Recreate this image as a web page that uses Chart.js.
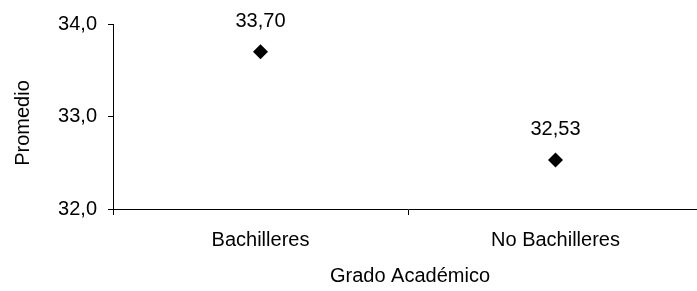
<!DOCTYPE html>
<html>
<head>
<meta charset="utf-8">
<script src="https://cdn.jsdelivr.net/npm/chart.js@4"></script>
<style>
html,body{margin:0;padding:0;background:#fff;overflow:hidden;}
#wrap{width:697px;height:291px;position:relative;overflow:hidden;}
canvas{display:block;}
</style>
</head>
<body>
<div id="wrap"><canvas id="c" width="703" height="291"></canvas></div>
<script>
const categories = ['Bachilleres', 'No Bachilleres'];
const promedios = [33.70, 32.53];
const yTicks = [32, 33, 34];
const yTitle = 'Promedio';
const xTitle = 'Grado Académico';

const FONT = "'Liberation Sans', Arial, sans-serif";
const fmt = (v, d) => v.toFixed(d).replace('.', ',');

const labelsPlugin = {
  id: 'customText',
  afterDatasetsDraw(chart) {
    const ctx = chart.ctx;
    ctx.save();
    ctx.fillStyle = '#000';
    ctx.font = '20px ' + FONT;
    ctx.textAlign = 'center';
    ctx.textBaseline = 'alphabetic';
    const meta = chart.getDatasetMeta(0);
    meta.data.forEach((pt, i) => {
      ctx.fillText(fmt(promedios[i], 2), pt.x, pt.y - 25);
    });
    // axis titles
    ctx.fillText(xTitle, 410, 282);
    ctx.translate(23, 123);
    ctx.rotate(-Math.PI / 2);
    ctx.textBaseline = 'middle';
    ctx.fillText(yTitle, 0, 0);
    ctx.restore();
  }
};

new Chart(document.getElementById('c'), {
  type: 'line',
  data: {
    labels: categories,
    datasets: [{
      data: promedios,
      showLine: false,
      pointStyle: 'rectRot',
      pointRadius: 7.5,
      pointHoverRadius: 7.5,
      backgroundColor: '#000',
      borderColor: '#000',
      borderWidth: 0,
      clip: false
    }]
  },
  options: {
    responsive: false,
    animation: false,
    devicePixelRatio: 1,
    events: [],
    layout: { autoPadding: false, padding: { top: 24, left: 0, right: 0, bottom: 0 } },
    plugins: { legend: { display: false }, tooltip: { enabled: false } },
    scales: {
      x: {
        type: 'category',
        offset: true,
        grid: { offset: true, drawOnChartArea: false, drawTicks: true, tickLength: 6, color: '#000', lineWidth: 1 },
        border: { color: '#000', width: 1 },
        ticks: { color: '#000', font: { family: FONT, size: 20 }, padding: 13, maxRotation: 0, autoSkip: false },
        afterFit(s) { s.height = 82; s.paddingRight = 0; s.paddingLeft = 0; }
      },
      y: {
        min: 32, max: 34,
        afterBuildTicks(s) { s.ticks = yTicks.map(v => ({ value: v })); },
        grid: { drawOnChartArea: false, drawTicks: true, tickLength: 5, color: '#000', lineWidth: 1 },
        border: { color: '#000', width: 1 },
        ticks: { color: '#000', font: { family: FONT, size: 20 }, padding: 11, callback: v => fmt(v, 1) },
        afterFit(s) { s.width = 113; }
      }
    }
  },
  plugins: [labelsPlugin]
});
</script>
</body>
</html>
